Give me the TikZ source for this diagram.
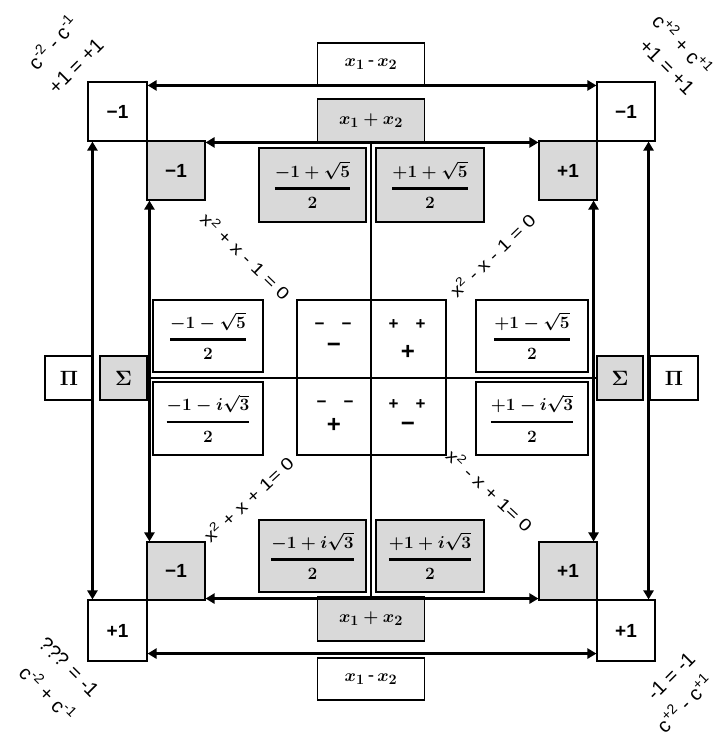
\documentclass[tikz,border=0pt]{standalone}
\usepackage{amsmath}
\usepackage{fontspec}
\setmainfont{Liberation Sans}
\usetikzlibrary{arrows.meta}
\definecolor{gfill}{RGB}{217,217,217}
\newcommand\myfrac[2]{$\displaystyle\genfrac{}{}{2.6pt}{0}{#1}{#2}$}
\tikzset{
  wbox/.style={draw,fill=white,line width=1.1pt,inner sep=0pt},
  gbox/.style={draw,fill=gfill,line width=1.1pt,inner sep=0pt},
  lab/.style={font=\fontsize{19}{21}\selectfont\bfseries},
  mlab/.style={font=\fontsize{19}{21}\selectfont\boldmath},
  flab/.style={font=\fontsize{19}{22}\selectfont\boldmath},
  glab/.style={font=\fontsize{21}{23}\selectfont\boldmath},
  dblarrow/.style={line width=2.6pt,{Triangle[length=9pt,width=10pt]}-{Triangle[length=9pt,width=10pt]}},
  gridline/.style={line width=1.1pt},
  eqtext/.style={font=\fontsize{17}{19}\selectfont,inner sep=0pt},
  cornertext/.style={font=\fontsize{20}{22}\selectfont,inner sep=0pt},
  smallsign/.style={font=\fontsize{17}{19}\selectfont\bfseries,inner sep=0pt},
  bigsign/.style={font=\fontsize{24}{26}\selectfont\bfseries,inner sep=0pt}
}
\begin{document}
\begin{tikzpicture}[x=1pt,y=-1pt]
\path[use as bounding box] (0,0) rectangle (717,738);
\node[gbox,minimum width=107,minimum height=44,mlab] (tsum) at (371,121) {$x_1+x_2$};
\node[gbox,minimum width=107,minimum height=44,mlab] (bsum) at (371,619) {$x_1+x_2$};
\node[gbox,minimum width=47,minimum height=44,glab] (lsig) at (123.5,378) {$\Sigma$};
\node[gbox,minimum width=46,minimum height=44,glab] (rsig) at (620,378) {$\Sigma$};
\draw[gridline] (tsum.south) -- (bsum.north);
\draw[gridline] (lsig.east) -- (rsig.west);
\node[wbox,minimum width=59,minimum height=59,lab] (tlo) at (117.5,111.5) {−1};
\node[wbox,minimum width=58,minimum height=59,lab] (tro) at (626,111.5) {−1};
\node[wbox,minimum width=59,minimum height=61,lab] (blo) at (117.5,630.5) {+1};
\node[wbox,minimum width=58,minimum height=61,lab] (bro) at (626,630.5) {+1};
\node[gbox,minimum width=58,minimum height=59,lab] (tli) at (176,170.5) {−1};
\node[gbox,minimum width=58,minimum height=59,lab] (tri) at (568,170.5) {+1};
\node[gbox,minimum width=58,minimum height=58,lab] (bli) at (176,571) {−1};
\node[gbox,minimum width=58,minimum height=58,lab] (bri) at (568,571) {+1};
\node[wbox,minimum width=107,minimum height=43,mlab] (tdif) at (371,64.5) {$x_1$\,-\,$x_2$};
\node[wbox,minimum width=107,minimum height=42,mlab] (bdif) at (371,679) {$x_1$\,-\,$x_2$};
\node[wbox,minimum width=48,minimum height=44,glab] (lpi) at (69,378) {$\Pi$};
\node[wbox,minimum width=48,minimum height=44,glab] (rpi) at (674,378) {$\Pi$};
\node[gbox,minimum width=107,minimum height=74,flab] (ftl) at (312.5,185) {\myfrac{-1+\sqrt{5}}{2}};
\node[gbox,minimum width=108,minimum height=74,flab] (ftr) at (430,185) {\myfrac{+1+\sqrt{5}}{2}};
\node[gbox,minimum width=107,minimum height=72,flab] (fbl) at (312.5,556) {\myfrac{-1+i\sqrt{3}}{2}};
\node[gbox,minimum width=108,minimum height=72,flab] (fbr) at (430,556) {\myfrac{+1+i\sqrt{3}}{2}};
\node[wbox,minimum width=110,minimum height=72,flab] (wtl) at (208,336) {\myfrac{-1-\sqrt{5}}{2}};
\node[wbox,minimum width=112,minimum height=72,flab] (wtr) at (532,336) {\myfrac{+1-\sqrt{5}}{2}};
\node[wbox,minimum width=110,minimum height=73,flab] (wbl) at (208,418.5) {\myfrac{-1-i\sqrt{3}}{2}};
\node[wbox,minimum width=112,minimum height=73,flab] (wbr) at (532,418.5) {\myfrac{+1-i\sqrt{3}}{2}};
\node[draw,line width=1.1pt,minimum width=149,minimum height=155,inner sep=0pt] (sbox) at (371.5,377.5) {};
\draw[gridline] (sbox.north) -- (sbox.south);
\draw[gridline] (sbox.west) -- (sbox.east);
\node[smallsign] (s1) at (333,326) {−\quad−};
\node[bigsign] (s2) at (334,348) {−};
\node[smallsign] (s3) at (407,325) {+\quad+};
\node[bigsign] (s4) at (408,352) {+};
\node[smallsign] (s5) at (335,404) {−\quad−};
\node[bigsign] (s6) at (334,425) {+};
\node[smallsign] (s7) at (407,405) {+\quad+};
\node[bigsign] (s8) at (408,427) {−};
\draw[dblarrow] ([yshift=-4pt]tlo.north east) -- ([yshift=-4pt]tro.north west);
\draw[dblarrow] ([yshift=-2pt]tli.north east) -- ([yshift=-2pt]tri.north west);
\draw[dblarrow] ([yshift=2pt]bli.south east) -- ([yshift=2pt]bri.south west);
\draw[dblarrow] ([yshift=8pt]blo.south east) -- ([yshift=8pt]bro.south west);
\draw[dblarrow] ([xshift=5pt]tlo.south west) -- ([xshift=5pt]blo.north west);
\draw[dblarrow] ([xshift=3pt]tli.south west) -- ([xshift=3pt]bli.north west);
\draw[dblarrow] ([xshift=-4pt]tri.south east) -- ([xshift=-4pt]bri.north east);
\draw[dblarrow] ([xshift=-7pt]tro.south east) -- ([xshift=-7pt]bro.north east);
\node[eqtext,rotate=-44] (e1) at (246,256) {\scalebox{1.2}[1]{x\textsuperscript{2} + x - 1 = 0}};
\node[eqtext,rotate=44] (e2) at (492,255) {\scalebox{1.2}[1]{x\textsuperscript{2} - x - 1 = 0}};
\node[eqtext,rotate=43] (e3) at (248,499) {\scalebox{1.2}[1]{x\textsuperscript{2} + x + 1= 0}};
\node[eqtext,rotate=-43] (e4) at (490,490) {\scalebox{1.2}[1]{x\textsuperscript{2} - x + 1= 0}};
\node[cornertext,rotate=48] (c1) at (52,42) {c\textsuperscript{-2} - c\textsuperscript{-1}};
\node[cornertext,rotate=45] (c2) at (76,66) {+1 = +1};
\node[cornertext,rotate=-47] (c3) at (683,44) {c\textsuperscript{+2} + c\textsuperscript{+1}};
\node[cornertext,rotate=-45] (c4) at (667,67) {+1 = +1};
\node[cornertext,rotate=-45] (c5) at (69,667) {??? = -1};
\node[cornertext,rotate=-45] (c6) at (48,693) {c\textsuperscript{-2} + c\textsuperscript{-1}};
\node[cornertext,rotate=45] (c7) at (671,676) {-1 = -1};
\node[cornertext,rotate=45] (c8) at (684,703) {c\textsuperscript{+2} - c\textsuperscript{+1}};
\end{tikzpicture}
\end{document}
